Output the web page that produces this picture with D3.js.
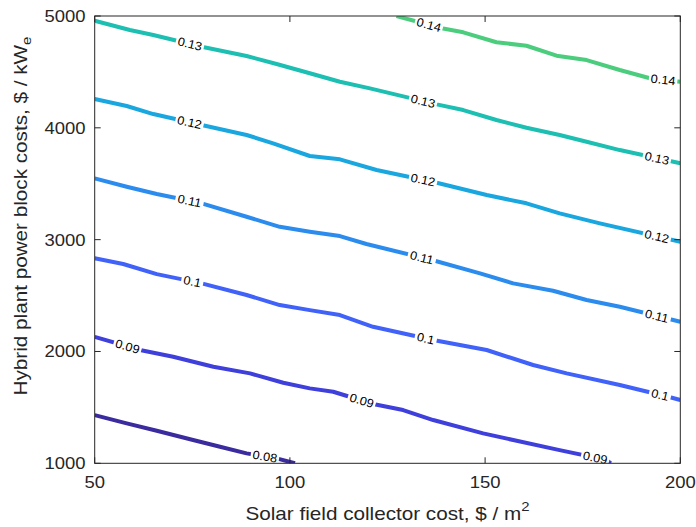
<!DOCTYPE html>
<html><head><meta charset="utf-8">
<script src="https://cdn.jsdelivr.net/npm/d3@7"></script>
<style>body{margin:0;background:#fff}</style>
</head><body>
<svg id="c" width="696" height="527"></svg>
<script>
// ---- data ----
const xTicks = [50, 100, 150, 200];
const yTicks = [1000, 2000, 3000, 4000, 5000];
const levels = [0.08, 0.09, 0.1, 0.11, 0.12, 0.13, 0.14];
const levelColors = ["#3a2b9e", "#3f3fdc", "#4062f8", "#2b8cee", "#1aa7df", "#1cbfb1", "#4ccd7e"];

const c008 = [[50,1431],[58.2,1357],[65.9,1291],[75.2,1208],[82.1,1148],[88.9,1089],[96.6,1044],[101.3,1000]];
const c009 = [[50,2130],[61.6,2013],[70.1,1953],[80.4,1863],[89.8,1804],[98.3,1720],[105.1,1670],[111.1,1640],[121.3,1530],[129.0,1476],[136.7,1387],[149.5,1268],[157.2,1208],[169.1,1118],[181.1,1029],[182.2,1000]];
const c010 = [[50,2833],[57.3,2782],[65.9,2692],[77.4,2609],[88.9,2505],[97.4,2415],[105.1,2370],[112.8,2326],[121.3,2221],[136.7,2102],[150.4,2013],[162.3,1879],[170.9,1804],[184.5,1700],[196.9,1595],[200,1566]];
const c011 = [[50,3548],[58.2,3473],[65.9,3408],[77.4,3325],[88.9,3205],[97.4,3115],[105.1,3071],[112.8,3032],[119.6,2961],[137.1,2811],[148.7,2699],[157.2,2609],[167.4,2543],[176.0,2460],[184.5,2400],[200,2266]];
const c012 = [[50,4258],[58.2,4195],[65.0,4123],[77.4,4025],[88.9,3936],[95.7,3861],[105.1,3748],[112.8,3718],[122.2,3623],[137.6,3509],[150.4,3399],[160.6,3325],[169.1,3235],[179.4,3146],[200,2981]];
const c013 = [[50,4958],[59.0,4875],[65.0,4830],[77.4,4725],[88.9,4642],[96.6,4571],[105.1,4488],[112.8,4412],[120.5,4353],[137.6,4210],[144.4,4159],[152.9,4070],[160.6,4001],[169.1,3936],[176.0,3876],[184.5,3801],[200,3683]];
const c014 = [[127.3,5000],[138.9,4890],[144.4,4854],[152.9,4765],[160.6,4734],[168.3,4645],[176.0,4606],[184.5,4517],[192.2,4443],[200,4412]];
const contourLines = [c008, c009, c010, c011, c012, c013, c014];

// label x-positions along each contour
const labelX = [[93.6], [58.4, 118.4, 178.2], [75, 134.8, 194.8], [74.3, 133.8, 194], [74.3, 134.1, 194], [74.4, 134.1, 194], [135.6, 195.6]];

// ---- layout ----
const L = 94.7, R = 680.3, T = 16, B = 463.3;
const font = "'Liberation Sans', Arial, Helvetica, sans-serif";
const ink = "#262626";

const svg = d3.select("#c");
const x = d3.scaleLinear().domain([50, 200]).range([L, R]);
const y = d3.scaleLinear().domain([1000, 5000]).range([B, T]);

svg.append("defs").append("clipPath").attr("id", "clip")
  .append("rect").attr("x", L).attr("y", T).attr("width", R - L).attr("height", B - T);

const plot = svg.append("g").attr("clip-path", "url(#clip)");
const lineGen = d3.line().x(d => x(d[0])).y(d => y(d[1]));

contourLines.forEach((pts, i) => {
  plot.append("path").attr("d", lineGen(pts))
    .attr("fill", "none").attr("stroke", levelColors[i])
    .attr("stroke-width", 4).attr("stroke-linejoin", "round");
});

// labels
const labG = svg.append("g");
contourLines.forEach((pts, i) => {
  labelX[i].forEach(lx => {
    let k = 0;
    while (k < pts.length - 2 && pts[k + 1][0] < lx) k++;
    const a = pts[k], b = pts[k + 1];
    const t = (lx - a[0]) / (b[0] - a[0]);
    const ly = a[1] + t * (b[1] - a[1]);
    const px = x(lx), py = y(ly);
    const ang = Math.atan2(y(b[1]) - y(a[1]), x(b[0]) - x(a[0])) * 180 / Math.PI;
    const g = labG.append("g").attr("transform", `translate(${px},${py}) rotate(${ang})`);
    const txt = d3.format("")(levels[i]);
    const tw = txt.length * 6.4 - 1;
    g.append("rect").attr("x", -tw / 2 - 2).attr("y", -6.5).attr("width", tw + 4).attr("height", 13).attr("fill", "#fff");
    g.append("text").text(txt).attr("text-anchor", "middle").attr("dy", "0.35em")
      .attr("transform", "scale(1.06,1)")
      .attr("font-family", font).attr("font-size", 12).attr("fill", "#000");
  });
});

// axes box with inward ticks
const axG = svg.append("g");
axG.append("rect").attr("x", L).attr("y", T).attr("width", R - L).attr("height", B - T)
  .attr("fill", "none").attr("stroke", ink).attr("stroke-width", 1);

const tl = 6;
const sx = 1.12;
xTicks.forEach(v => {
  const px = x(v);
  axG.append("line").attr("x1", px).attr("x2", px).attr("y1", B).attr("y2", B - tl).attr("stroke", ink);
  axG.append("line").attr("x1", px).attr("x2", px).attr("y1", T).attr("y2", T + tl).attr("stroke", ink);
  axG.append("text").text(v).attr("transform", `translate(${px},488) scale(${sx},1)`).attr("text-anchor", "middle")
    .attr("font-family", font).attr("font-size", 16.5).attr("fill", ink);
});
yTicks.forEach(v => {
  const py = y(v);
  axG.append("line").attr("x1", L).attr("x2", L + tl).attr("y1", py).attr("y2", py).attr("stroke", ink);
  axG.append("line").attr("x1", R).attr("x2", R - tl).attr("y1", py).attr("y2", py).attr("stroke", ink);
  axG.append("text").text(v).attr("transform", `translate(85.5,${py + 5.9}) scale(${sx},1)`).attr("text-anchor", "end")
    .attr("font-family", font).attr("font-size", 16.5).attr("fill", ink);
});

// axis titles
const tsx = 1.15;
const xt = svg.append("text").attr("transform", `translate(${(L + R) / 2},520) scale(${tsx},1)`).attr("text-anchor", "middle")
  .attr("font-family", font).attr("font-size", 18).attr("fill", ink);
xt.append("tspan").text("Solar field collector cost, $ / m");
xt.append("tspan").text("2").attr("font-size", 13).attr("dy", -9);

const yt = svg.append("text").attr("transform", `translate(27,216) rotate(-90) scale(${tsx},1)`)
  .attr("text-anchor", "middle").attr("font-family", font).attr("font-size", 18).attr("fill", ink);
yt.append("tspan").text("Hybrid plant power block costs, $ / kW");
yt.append("tspan").text("e").attr("font-size", 13).attr("dy", 4);
</script>
</body></html>
